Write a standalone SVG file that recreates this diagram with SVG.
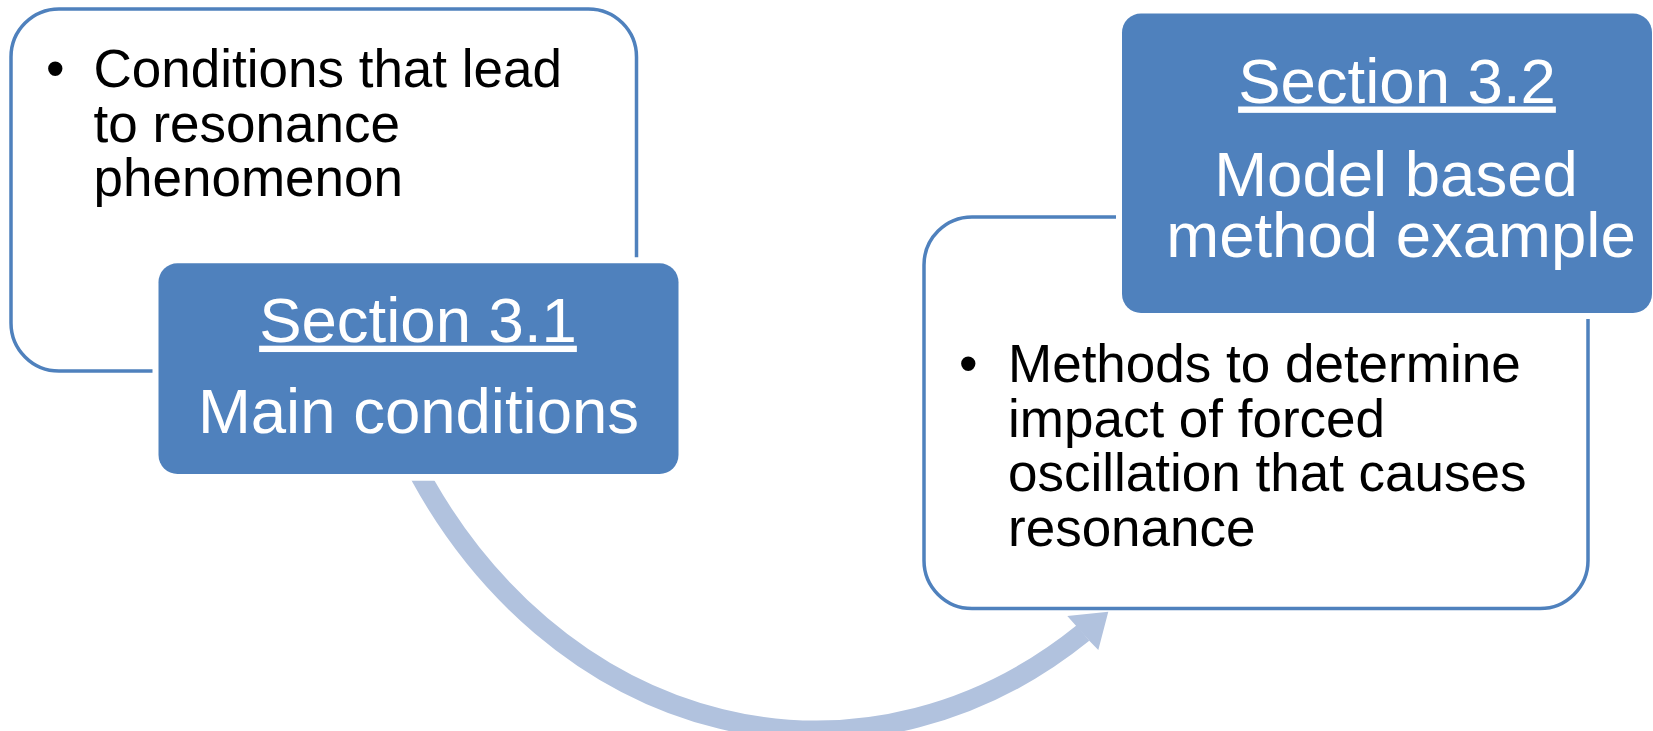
<svg xmlns="http://www.w3.org/2000/svg" width="1653" height="731" viewBox="0 0 1653 731">
  <style>
    .panel { fill: #ffffff; stroke: #4F81BD; stroke-width: 3.5; }
    .halo { fill: #ffffff; stroke: none; }
    .head { fill: #4F81BD; stroke: none; }
    .body { font-family: "Liberation Sans", Arial, sans-serif; font-size: 53px; fill: #000000; }
    .title { font-family: "Liberation Sans", Arial, sans-serif; font-size: 63.5px; fill: #ffffff; text-anchor: middle; }
    .ul { text-decoration: underline; }
    .flow { fill: none; stroke: #B1C2DE; stroke-width: 20; stroke-linecap: butt; }
    .flowhead { fill: #B1C2DE; stroke: none; }
  </style>
  <defs>
    <clipPath id="arrowClip">
      <rect x="0" y="480.7" width="1653" height="260"/>
    </clipPath>
  </defs>

  <g id="connectors">
    <path class="flow" clip-path="url(#arrowClip)" d="M 417.2 470 A 472 558 0 0 0 1083 633"/>
    <polygon class="flowhead" points="1067.3,616 1108.3,611.7 1098.3,650 1089.3,640.7 1076,625.7"/>
  </g>

  <g id="node-conditions">
    <rect class="panel" x="11" y="9" width="625.5" height="362" rx="48" ry="48"/>
    <text class="body" x="46" y="87.3">•</text>
    <text class="body" x="93.5" y="87.3">Conditions that lead<tspan x="93.5" y="141.7">to resonance</tspan><tspan x="93.5" y="196">phenomenon</tspan></text>
  </g>

  <g id="node-section31">
    <rect class="halo" x="152.5" y="257.3" width="532" height="222.7" rx="25" ry="25"/>
    <rect class="head" x="158.5" y="263.3" width="520" height="210.7" rx="19" ry="19"/>
    <text class="title ul" x="418" y="341.7">Section 3.1</text>
    <text class="title" x="418.5" y="433.3">Main conditions</text>
  </g>

  <g id="node-methods">
    <rect class="panel" x="924" y="217" width="664" height="391.5" rx="48" ry="48"/>
    <text class="body" x="959" y="382">•</text>
    <text class="body" x="1008" y="382">Methods to determine<tspan x="1008" y="436.5">impact of forced</tspan><tspan x="1008" y="491">oscillation that causes</tspan><tspan x="1008" y="545.5">resonance</tspan></text>
  </g>

  <g id="node-section32">
    <rect class="halo" x="1116" y="7.5" width="560" height="311.5" rx="25" ry="25"/>
    <rect class="head" x="1122" y="13.5" width="530" height="299.5" rx="19" ry="19"/>
    <text class="title ul" x="1397" y="102.5">Section 3.2</text>
    <text class="title" x="1396" y="196">Model based<tspan x="1401" y="256.5">method example</tspan></text>
  </g>
</svg>
